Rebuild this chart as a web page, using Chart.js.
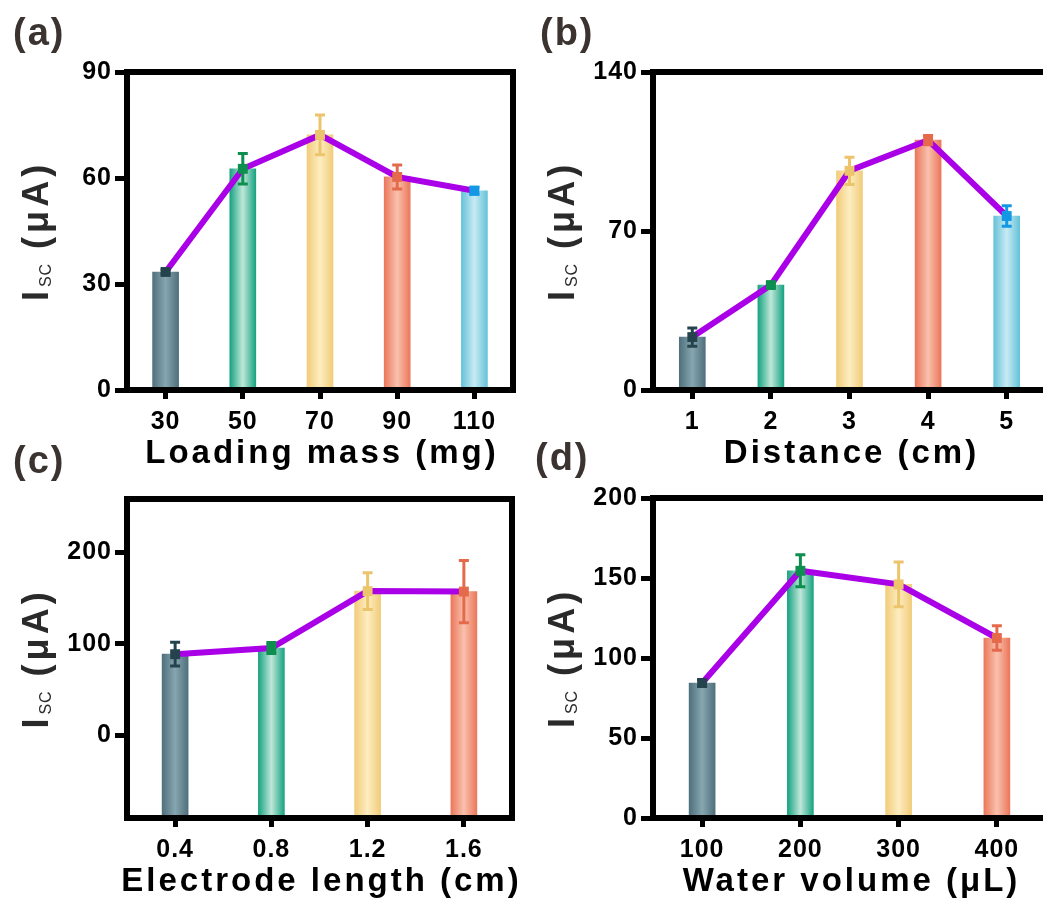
<!DOCTYPE html>
<html>
<head>
<meta charset="utf-8">
<script src="https://cdn.jsdelivr.net/npm/chart.js"></script>
<style>
    html, body { margin: 0; padding: 0; background: #fff; overflow: hidden; width: 1043px; height: 899px; }
    canvas { position: absolute; left: 0; top: 0; }
</style>
</head>
<body>
<canvas id="chartMasa" width="1060" height="899"></canvas>
<canvas id="chartDistancia" width="1060" height="899"></canvas>
<canvas id="chartElectrodo" width="1060" height="899"></canvas>
<canvas id="chartAgua" width="1060" height="899"></canvas>
<script>
// (a) Masa de carga
const masaLabels = ['30', '50', '70', '90', '110'];
const masaIsc = [33.4, 62.6, 72.2, 60.3, 56.4];
const masaErr = [0.6, 4.3, 5.6, 3.4, 1.0];
const masaTicks = [0, 30, 60, 90];

// (b) Distancia
const distLabels = ['1', '2', '3', '4', '5'];
const distIsc = [23.3, 46.2, 96.5, 110, 76.6];
const distErr = [4, 1, 6, 2, 4.5];
const distTicks = [0, 70, 140];

// (c) Longitud del electrodo
const elecLabels = ['0.4', '0.8', '1.2', '1.6'];
const elecIsc = [88.7, 95.5, 157.5, 157];
const elecErr = [13, 6, 20, 34];
const elecTicks = [0, 100, 200];

// (d) Volumen de agua
const aguaLabels = ['100', '200', '300', '400'];
const aguaIsc = [84.4, 154.5, 146, 112.5];
const aguaErr = [2, 10, 14, 7.7];
const aguaTicks = [0, 50, 100, 150, 200];

// Colores
const barEdge = ['#4f707c', '#18a381', '#f1cc7a', '#eb775b', '#66c2d9'];
const barMid = ['#86a6b0', '#bfe7d9', '#fdedc0', '#f9c1ad', '#c8ebf3'];
const markColors = ['#24434d', '#0e8f4f', '#ecc46c', '#e46a4b', '#1398e6'];
const purple = '#aa00e8';
const FONT = "'Liberation Sans', Arial, sans-serif";

const W = 1060, H = 899, Y_W = 60, X_H = 40;

function gradiente(c) {
    const i = c.dataIndex;
    const xs = c.chart.scales.x;
    if (i === undefined || !xs) return barEdge[0];
    const x = xs.getPixelForValue(i);
    if (!isFinite(x)) return barEdge[i];
    const g = c.chart.ctx.createLinearGradient(x - 13, 0, x + 13, 0);
    g.addColorStop(0, barEdge[i]);
    g.addColorStop(0.5, barMid[i]);
    g.addColorStop(1, barEdge[i]);
    return g;
}

function marco(p) {
    return {
        id: 'marco',
        beforeDraw(chart) {
            // un poco de espacio entre digitos de los ticks
            chart.ctx.letterSpacing = '1px';
        },
        afterDatasetsDraw(chart) {
            const { ctx, chartArea: a, scales: { x, y } } = chart;
            ctx.save();
            // Barras de error
            p.vals.forEach((v, i) => {
                const px = x.getPixelForValue(i);
                const t = y.getPixelForValue(v + p.err[i]);
                const b = y.getPixelForValue(v - p.err[i]);
                ctx.strokeStyle = markColors[i];
                ctx.lineWidth = 3;
                ctx.beginPath();
                ctx.moveTo(px, t); ctx.lineTo(px, b);
                ctx.moveTo(px - 5, t); ctx.lineTo(px + 5, t);
                ctx.moveTo(px - 5, b); ctx.lineTo(px + 5, b);
                ctx.stroke();
            });
            // Marco
            ctx.strokeStyle = '#000';
            ctx.lineWidth = 6;
            ctx.strokeRect(a.left, a.top, a.right - a.left, a.bottom - a.top);

            // Titulo eje x
            ctx.fillStyle = '#000';
            ctx.font = 'bold 33px ' + FONT;
            ctx.letterSpacing = '3px';
            ctx.textAlign = 'center';
            ctx.textBaseline = 'middle';
            ctx.fillText(p.xTitle, (a.left + a.right) / 2 + 2, a.bottom + 64);

            // Titulo eje y: I_SC (μA)
            ctx.save();
            ctx.translate(a.left - 92, (a.top + a.bottom) / 2);
            ctx.rotate(-Math.PI / 2);
            ctx.textAlign = 'left';
            ctx.textBaseline = 'alphabetic';
            ctx.fillStyle = '#2a2a2a';
            ctx.font = 'bold 36px ' + FONT;
            ctx.letterSpacing = '4px';
            const wI = ctx.measureText('I').width;
            const wRest = ctx.measureText(' (μA)').width;
            ctx.font = '16px ' + FONT;
            ctx.letterSpacing = '1px';
            const wSub = ctx.measureText('SC').width;
            let sx = -(wI + wSub + wRest) / 2;
            ctx.font = 'bold 36px ' + FONT;
            ctx.letterSpacing = '4px';
            ctx.fillText('I', sx, 13);
            sx += wI;
            ctx.font = '16px ' + FONT;
            ctx.letterSpacing = '1px';
            ctx.fillText('SC', sx, 16);
            sx += wSub;
            ctx.font = 'bold 36px ' + FONT;
            ctx.letterSpacing = '4px';
            ctx.fillText(' (μA)', sx, 13);
            ctx.restore();

            // Letra del panel
            ctx.fillStyle = '#3b3330';
            ctx.font = 'bold 38px ' + FONT;
            ctx.letterSpacing = '2px';
            ctx.textAlign = 'left';
            ctx.textBaseline = 'alphabetic';
            ctx.fillText(p.letter, p.letterPos[0], p.letterPos[1]);
            ctx.restore();
        }
    };
}

function crearPanel(id, p) {
    const ctx = document.getElementById(id).getContext('2d');
    const tickFont = { family: FONT, size: 25, weight: 'bold' };
    return new Chart(ctx, {
        data: {
            labels: p.labels,
            datasets: [
                {
                    type: 'line',
                    data: p.vals,
                    borderColor: purple,
                    borderWidth: 6,
                    pointStyle: 'rect',
                    pointRadius: 7,
                    pointBackgroundColor: markColors,
                    pointBorderWidth: 0,
                    order: 0
                },
                {
                    type: 'bar',
                    data: p.vals,
                    base: p.min,
                    barThickness: 26,
                    backgroundColor: gradiente,
                    order: 1
                }
            ]
        },
        options: {
            responsive: false,
            animation: false,
            layout: {
                padding: {
                    left: p.area[0] - Y_W,
                    top: p.area[1],
                    right: W - p.area[2],
                    bottom: H - p.area[3] - X_H
                }
            },
            plugins: { legend: { display: false }, tooltip: { enabled: false } },
            scales: {
                x: {
                    type: 'category',
                    offset: true,
                    grid: { drawOnChartArea: false, tickLength: 9, tickWidth: 5, tickColor: '#000', offset: false },
                    border: { display: false },
                    ticks: { color: '#000', font: tickFont, padding: 8, maxRotation: 0, autoSkip: false },
                    afterFit: s => { s.height = X_H; }
                },
                y: {
                    min: p.min,
                    max: p.max,
                    grid: { drawOnChartArea: false, tickLength: 12, tickWidth: 5, tickColor: '#000' },
                    border: { display: false },
                    ticks: { color: '#000', font: tickFont, padding: 3 },
                    afterBuildTicks: s => { s.ticks = p.ticks.map(v => ({ value: v })); },
                    afterFit: s => { s.width = Y_W; }
                }
            }
        },
        plugins: [marco(p)]
    });
}

crearPanel('chartMasa', {
    labels: masaLabels, vals: masaIsc, err: masaErr, ticks: masaTicks,
    min: 0, max: 90, area: [127, 72, 513, 390],
    xTitle: 'Loading mass (mg)', letter: '(a)', letterPos: [13, 45]
});
crearPanel('chartDistancia', {
    labels: distLabels, vals: distIsc, err: distErr, ticks: distTicks,
    min: 0, max: 140, area: [653, 72, 1046, 390],
    xTitle: 'Distance (cm)', letter: '(b)', letterPos: [540, 45]
});
crearPanel('chartElectrodo', {
    labels: elecLabels, vals: elecIsc, err: elecErr, ticks: elecTicks,
    min: -90, max: 258, area: [127, 499, 512, 818],
    xTitle: 'Electrode length (cm)', letter: '(c)', letterPos: [13, 473]
});
crearPanel('chartAgua', {
    labels: aguaLabels, vals: aguaIsc, err: aguaErr, ticks: aguaTicks,
    min: 0, max: 200, area: [653, 498, 1046, 818],
    xTitle: 'Water volume (μL)', letter: '(d)', letterPos: [535, 470]
});
</script>
</body>
</html>
